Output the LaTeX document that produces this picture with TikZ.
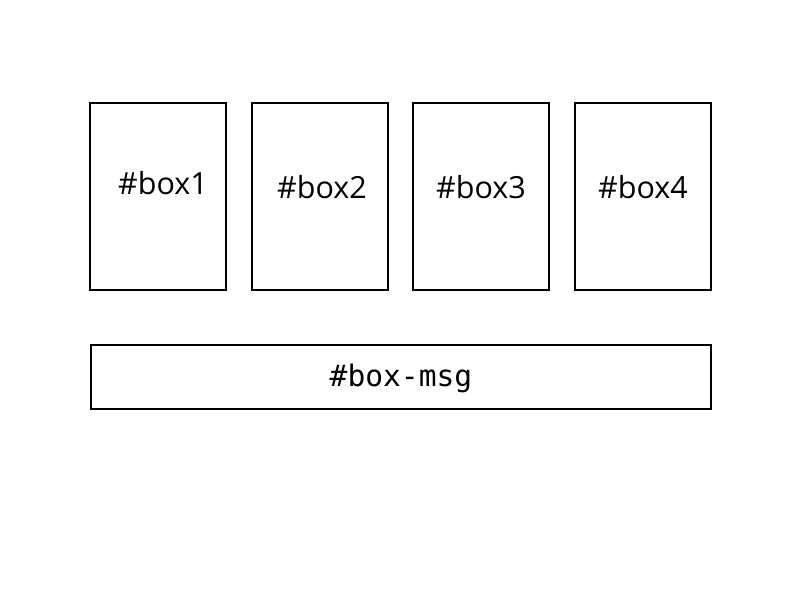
\documentclass[tikz,border=0pt]{standalone}
\usepackage{fontspec}
\setmainfont{Open Sans}
\setmonofont{DejaVu Sans Mono}
\begin{document}
\begin{tikzpicture}[x=1pt,y=1pt,
  boxstyle/.style={draw=black,line width=2pt,fill=white},
  lbl/.style={font=\fontsize{30.5}{34}\selectfont,inner sep=0pt},
  mlbl/.style={font=\ttfamily\fontsize{29.6}{32}\selectfont,inner sep=0pt}]
\useasboundingbox (0,0) rectangle (800,600);
\draw[boxstyle] (90,310) rectangle (226,497);
\draw[boxstyle] (252,310) rectangle (388,497);
\draw[boxstyle] (413,310) rectangle (549,497);
\draw[boxstyle] (575,310) rectangle (711,497);
\draw[boxstyle] (91,191) rectangle (711,255);
\node[lbl] (t1) at (163,417) {\#box1};
\node[lbl] (t2) at (322,413) {\#box2};
\node[lbl] (t3) at (481,413) {\#box3};
\node[lbl] (t4) at (643,413) {\#box4};
\node[mlbl] (tm) at (401,222) {\#box-msg};
\end{tikzpicture}
\end{document}
